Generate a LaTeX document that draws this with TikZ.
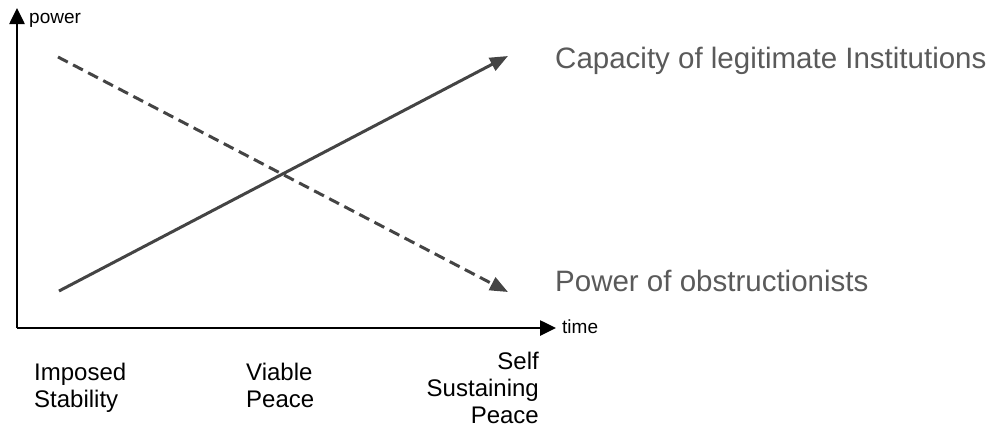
\documentclass[tikz,border=0pt]{standalone}
\usepackage{fontspec}
\setmainfont{Liberation Sans}
\usetikzlibrary{arrows.meta}
\definecolor{linegray}{HTML}{444444}
\definecolor{textgray}{HTML}{5A5A5A}
\begin{document}
\begin{tikzpicture}[x=1pt,y=-1pt,
  axisline/.style={line width=2.6pt,black,-{Triangle[length=16pt,width=15pt]}},
  trendline/.style={line width=3pt,linegray,-{Triangle[length=18pt,width=14pt]}},
  dashtrend/.style={trendline,dash pattern=on 11pt off 6pt},
  biglabel/.style={inner sep=0pt,text=textgray,font=\fontsize{29.5}{35}\selectfont},
  smalllabel/.style={inner sep=0pt,text=black,font=\fontsize{19}{22}\selectfont},
  phaselabel/.style={inner sep=0pt,text=black,font=\fontsize{24}{27}\selectfont}]
\useasboundingbox (0,0) rectangle (995,432);
\coordinate (origin) at (17,328);
\coordinate (ytip) at (17,8);
\coordinate (xtip) at (556,328);
\draw[axisline] (origin) -- (ytip);
\draw[axisline] (origin) -- (xtip);
\node[smalllabel,anchor=base west] (powerlbl) at (29,23) {power};
\node[smalllabel,anchor=base west] (timelbl) at (562,333) {time};
\coordinate (s0) at (59,291);
\coordinate (s1) at (508,56);
\coordinate (d0) at (58,57);
\coordinate (d1) at (508,292);
\draw[trendline] (s0) -- (s1);
\draw[dashtrend] (d0) -- (d1);
\node[biglabel,anchor=base west] (cap) at (555,68) {Capacity of legitimate Institutions};
\node[biglabel,anchor=base west] (obs) at (555,291) {Power of obstructionists};
\node[phaselabel,anchor=north west,align=left] (imp) at (34,363) {Imposed\\Stability};
\node[phaselabel,anchor=north west,align=left] (via) at (246,363) {Viable\\Peace};
\node[phaselabel,anchor=north east,align=right] (ssp) at (539,352) {Self\\Sustaining\\Peace};
\end{tikzpicture}
\end{document}
